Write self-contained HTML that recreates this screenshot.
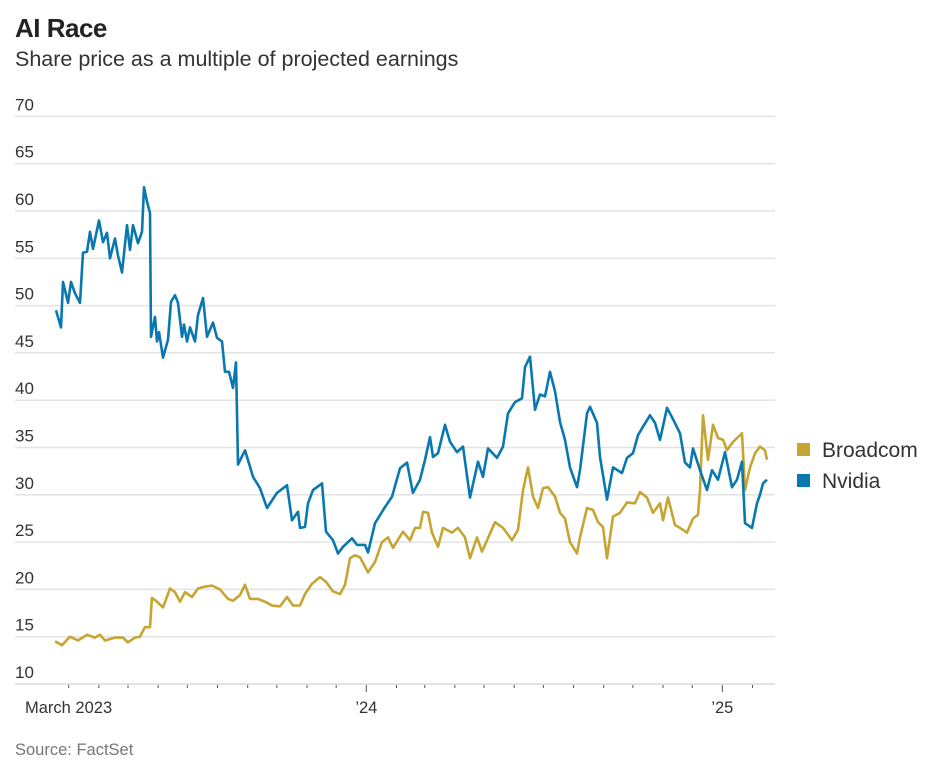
<!DOCTYPE html>
<html><head><meta charset="utf-8"><style>
body{margin:0;background:#fff;font-family:"Liberation Sans",sans-serif;}
#wrap{position:relative;width:936px;height:773px;overflow:hidden}
</style></head><body>
<div id="wrap">
<svg id="chart" width="936" height="773">
<text x="15" y="37" font-size="26" font-weight="bold" fill="#222" style="letter-spacing:-0.5px">AI Race</text>
<text x="15" y="66" font-size="21.5" fill="#333">Share price as a multiple of projected earnings</text>
<text x="15" y="755" font-size="16.5" fill="#777">Source: FactSet</text>
<g id="grid"></g><g id="axis"></g><g id="series"></g>
<g>
<rect x="797" y="443" width="13" height="13" fill="#c6a532"/>
<text x="822" y="457" font-size="21" fill="#333">Broadcom</text>
<rect x="797" y="474" width="13" height="13" fill="#0a78b0"/>
<text x="822" y="488" font-size="21" fill="#333">Nvidia</text>
</g>
</svg></div>
<script>
// days since 2023-01-01
const nvDays=[46,51.1,53.2,58.3,61.4,65.5,70.6,73.7,77.8,80.9,84,90.2,94.3,98.4,101.5,106.6,109.7,113.8,119,122,125.1,130.3,134.4,136.4,139.5,142.6,143.6,147.7,149.8,151.9,156,161.1,164.2,168.3,171.4,175.5,177.6,180.6,183.7,188.9,191.9,197.1,201.2,207.4,211.5,216.6,219.7,223.8,227.9,231,233.1,240.3,248.5,255.7,262.9,273.2,283.4,288.6,294.7,296.8,301.9,305,310.2,319.4,323.5,330.7,335.9,341,350.3,355.4,363.6,366.7,373.9,384.2,391.4,399.6,406.8,412.9,420.2,425.3,430.4,433.5,438.7,445.9,451,458.2,464.4,471.6,479.8,484.9,490.1,499.3,505.5,510.6,517.8,525,528.1,533.2,538.4,543.5,548.7,553.8,559,564.1,569.2,574.4,581.6,584.6,591.8,594.9,602.1,605.2,612.4,618.6,627.8,633,639.1,644.3,649.4,656.6,661.7,666.9,674.1,679.2,687.4,692.6,697.7,700.8,708,715.2,720.3,726.5,733.7,740.9,746,751.2,754.3,761.5,766.6,769.7,772.8,776.9];
const nvVals=[49.5,47.7,52.5,50.3,52.5,51.3,50.3,55.6,55.7,57.8,56,59,56.7,57.7,55,57.1,55.3,53.5,58.5,55.9,58.5,56.6,57.8,62.5,61,59.8,46.7,48.8,46.2,47.2,44.5,46.4,50.4,51.1,50.3,46.7,48,46.2,47.7,46.2,49,50.8,46.7,48.2,46.6,46.2,43,43,41.3,44,33.2,34.7,31.9,30.7,28.6,30.2,31,27.3,28.2,26.5,26.6,29.1,30.5,31.2,26.1,25.2,23.8,24.5,25.4,24.7,24.7,23.9,27,28.7,29.8,32.8,33.4,30.2,31.6,33.7,36.1,34,34.4,37.4,35.6,34.5,35.1,29.7,33.5,31.9,34.9,33.9,35.1,38.6,39.8,40.2,43.5,44.6,39,40.6,40.4,43,40.9,37.7,35.8,32.9,30.8,32.6,38.6,39.3,37.6,34,29.5,32.9,32.3,33.9,34.4,36.3,37.2,38.4,37.6,35.8,39.2,38.2,36.5,33.4,32.9,34.9,32.6,30.5,32.6,31.6,34.5,30.8,31.6,33.5,27,26.5,29.1,30,31.2,31.6];
const avDays=[45,52.1,60.4,68.6,77.8,86,91.2,96.3,106.6,114.8,119.9,127.1,132.3,137.4,142.6,144.6,149.8,156,163.2,168.3,173.4,178.6,185.8,191.9,199.1,206.3,214.6,222.8,227.9,235.1,240.3,245.4,253.6,260.8,268,276.2,283.4,289.6,296.8,301.9,309.1,317.4,323.5,330.7,337.9,343.1,348.2,353.3,358.5,366.7,373.9,381.1,387.3,392.4,402.7,409.9,415,420.2,423.2,428.4,432.5,438.7,443.8,453.1,459.2,466.4,471.6,478.8,483.9,489.1,497.3,505.5,514.7,520.9,526,531.2,536.3,541.5,546.6,551.8,559,564.1,569.2,574.4,581.6,584.6,591.8,598,603.1,608.3,612.4,618.6,625.8,633,641.2,646.3,653.5,659.7,666.9,670,675.1,682.3,687.4,694.6,700.8,705.9,708,711.1,716.2,721.4,726.5,731.7,735.8,742,751.2,754.3,759.4,764.6,769.7,774.8,776.9];
const avVals=[14.5,14.1,15,14.6,15.2,14.9,15.2,14.6,14.9,14.9,14.4,14.9,15,16,16,19.1,18.7,18.1,20.1,19.7,18.7,19.7,19.2,20.1,20.3,20.4,20,19,18.8,19.4,20.5,19,19,18.7,18.3,18.2,19.2,18.3,18.3,19.5,20.6,21.3,20.8,19.8,19.5,20.5,23.3,23.6,23.4,21.8,22.9,25,25.5,24.4,26.1,25.2,26.5,26.5,28.2,28.1,26,24.5,26.5,26,26.5,25.5,23.3,25.5,24,25.2,27.1,26.5,25.2,26.3,30.5,32.9,29.8,28.6,30.7,30.8,29.8,28.1,27.5,25,23.8,25.5,28.6,28.4,27.1,26.6,23.3,27.7,28.1,29.2,29.1,30.3,29.7,28.1,29.1,27.3,29.7,26.8,26.5,26,27.5,27.9,30.5,38.4,33.7,37.4,36,35.8,34.7,35.6,36.5,30.5,32.9,34.4,35.1,34.7,33.7];
const yTicks=[10,15,20,25,30,35,40,45,50,55,60,65,70];
const xLabels=[{m:2,y:2023,t:"March 2023"},{m:0,y:2024,t:"\u201924"},{m:0,y:2025,t:"\u201925"}];

const NS="http://www.w3.org/2000/svg";
function X(d){return (d+11.6)/1.028;}
function Y(v){return 684-(v-10)*9.46;}
function mk(tag,attrs,parent){const e=document.createElementNS(NS,tag);for(const k in attrs)e.setAttribute(k,attrs[k]);parent.appendChild(e);return e;}
const grid=document.getElementById('grid'),axis=document.getElementById('axis'),ser=document.getElementById('series');
yTicks.forEach(v=>{
  if(v>10){const l=mk('line',{x1:15,x2:775,y1:Y(v),y2:Y(v),stroke:'#e3e3e3','stroke-width':1.5},grid);
  
  }
  const t=mk('text',{x:15,y:Y(v)-6,'font-size':17,fill:'#333'},grid);
  t.textContent=v;
  
  
});
const ax=mk('line',{x1:15,x2:775,y1:684,y2:684,stroke:'#d8d8d8','stroke-width':1.5},axis);


const base=Date.UTC(2023,0,1);
for(let i=2;i<=25;i++){
  const yr=2023+Math.floor(i/12),mo=i%12;
  const d=(Date.UTC(yr,mo,1)-base)/864e5;
  const big=mo===0;
  const tk=mk('line',{x1:X(d),x2:X(d),y1:685,y2:big?692:688,stroke:'#555','stroke-width':1},axis);
  
  
}
xLabels.forEach(L=>{
  const d=(Date.UTC(L.y,L.m,1)-base)/864e5;
  const first=L.m===2;
  const t=mk('text',{x:first?25:X(d),y:713,'font-size':16.5,fill:'#333','text-anchor':first?'start':'middle'},axis);
  t.textContent=L.t;
  
  
});
function line(days,vals,color,name){
  const d=days.map((dd,i)=>(i?'L':'M')+X(dd).toFixed(1)+','+Y(vals[i]).toFixed(1)).join('');
  const p=mk('path',{d:d,fill:'none',stroke:color,'stroke-width':2.6,'stroke-linejoin':'round'},ser);
  
  
}
line(avDays,avVals,'#c6a532','broadcom-line');
line(nvDays,nvVals,'#0a78b0','nvidia-line');
</script>
</body></html>
